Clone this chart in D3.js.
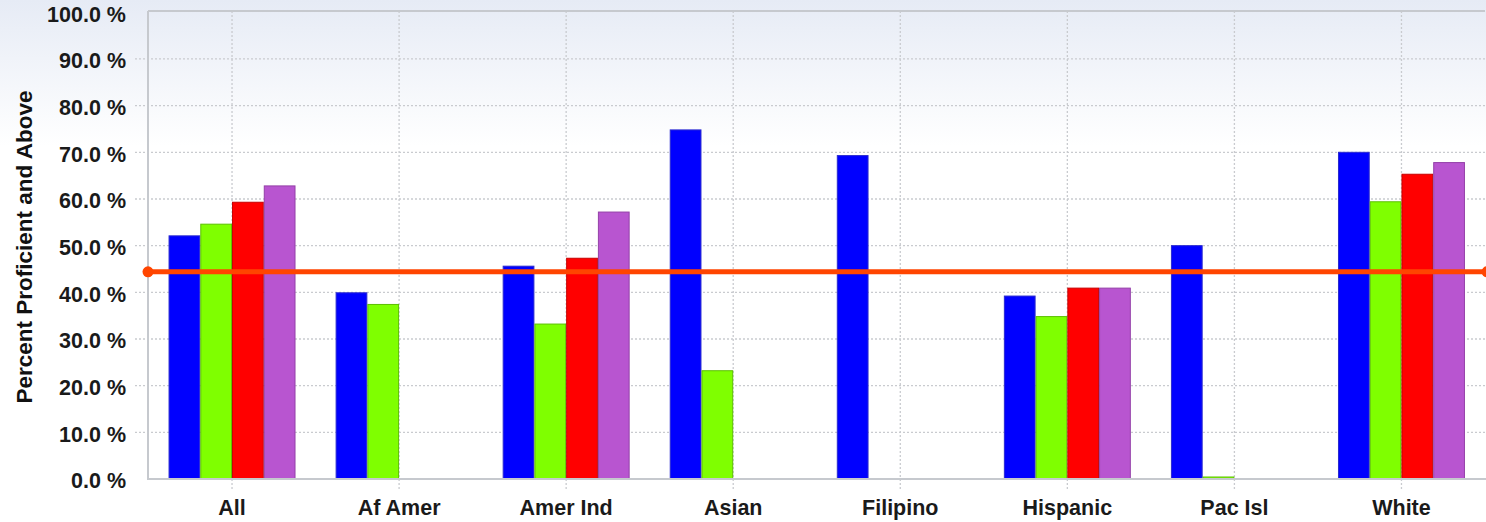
<!DOCTYPE html>
<html>
<head>
<meta charset="utf-8">
<script src="https://cdn.jsdelivr.net/npm/d3@7"></script>
<style>
  html, body { margin: 0; padding: 0; background: #fff; }
  svg { display: block; font-family: "Liberation Sans", Arial, sans-serif; }
</style>
</head>
<body>
<svg width="1486" height="522"></svg>
<script>
// groups on the x axis
const categories = ['All', 'Af Amer', 'Amer Ind', 'Asian', 'Filipino', 'Hispanic', 'Pac Isl', 'White'];
const seriesKeys = ['s1', 's2', 's3', 's4'];
const seriesColors = ['#0000ff', '#7fff00', '#ff0000', '#b855d0'];
const seriesStroke = ['#2a2ad0', '#5cc000', '#c80000', '#9440a8'];

// percent proficient and above, null = no bar
const s1 = [52.1, 39.9, 45.6, 74.8, 69.3, 39.2, 50.0, 70.0];
const s2 = [54.6, 37.4, 33.2, 23.2, null, 34.8, 0.0, 59.4];
const s3 = [59.3, null, 47.3, null, null, 40.9, null, 65.3];
const s4 = [62.8, null, 57.2, null, null, 40.9, null, 67.8];
const seriesValues = [s1, s2, s3, s4];

const targetValue = 44.4;
const yTicks = [0, 10, 20, 30, 40, 50, 60, 70, 80, 90, 100];

const margin = {top: 11, left: 148, bottom: 43, right: 1};
const width = 1486;
const height = 522;

const svg = d3.select('svg');

// background wash
const defs = svg.append('defs');
const grad = defs.append('linearGradient')
    .attr('id', 'bg').attr('x1', 0).attr('y1', 0).attr('x2', 0).attr('y2', 1);
grad.append('stop').attr('offset', '0%').attr('stop-color', '#e6ebf5');
grad.append('stop').attr('offset', '28%').attr('stop-color', '#ffffff');
grad.append('stop').attr('offset', '100%').attr('stop-color', '#ffffff');
svg.append('rect').attr('width', width).attr('height', height).attr('fill', 'url(#bg)');

const x0 = d3.scaleBand()
    .domain(categories)
    .range([margin.left + 0.5, width - margin.right])
    .paddingInner(0.24)
    .paddingOuter(0.12);

const x1 = d3.scaleBand()
    .domain(seriesKeys)
    .range([0, x0.bandwidth()]);

const yScale = d3.scaleLinear()
    .domain([0, 100])
    .range([height - margin.bottom, 12.3]);

const plotBottom = height - margin.bottom;

// horizontal grid + tick marks
svg.append('g')
    .selectAll('line')
    .data(yTicks.filter(d => d > 0 && d < 100))
    .join('line')
    .attr('x1', margin.left - 13)
    .attr('x2', width)
    .attr('y1', d => yScale(d))
    .attr('y2', d => yScale(d))
    .attr('stroke', '#c9cbcf')
    .attr('stroke-width', 1.3)
    .attr('stroke-dasharray', '2,2');

// vertical grid at category centres
svg.append('g')
    .selectAll('line')
    .data(categories)
    .join('line')
    .attr('x1', d => x0(d) + x0.bandwidth() / 2)
    .attr('x2', d => x0(d) + x0.bandwidth() / 2)
    .attr('y1', margin.top)
    .attr('y2', plotBottom + 11)
    .attr('stroke', '#c9cbcf')
    .attr('stroke-width', 1.3)
    .attr('stroke-dasharray', '2,2');

// y-axis labels
const yAxis = d3.axisLeft(yScale)
    .tickValues(yTicks)
    .tickSize(0)
    .tickPadding(22)
    .tickFormat(d => d.toFixed(1) + ' %');

const yg = svg.append('g')
    .attr('transform', `translate(${margin.left}, 2)`)
    .call(yAxis);
yg.select('.domain').remove();
yg.selectAll('text')
    .attr('fill', '#1a1a1a')
    .style('font-size', '21.5px')
    .style('font-weight', 'bold');

// x-axis labels
const xAxis = d3.axisBottom(x0).tickSize(0).tickPadding(21);
const xg = svg.append('g')
    .attr('transform', `translate(0, ${plotBottom})`)
    .call(xAxis);
xg.select('.domain').remove();
xg.selectAll('text')
    .attr('fill', '#1a1a1a')
    .style('font-size', '21.5px')
    .style('font-weight', 'bold');

// bars
const groups = svg.append('g')
    .selectAll('g')
    .data(categories)
    .join('g')
    .attr('transform', d => `translate(${x0(d)}, 0)`);

groups.selectAll('rect')
    .data((d, i) => seriesKeys.map((k, j) => ({key: k, j: j, value: seriesValues[j][i]})))
    .join('rect')
    .filter(d => d.value !== null)
    .attr('x', d => x1(d.key) + 0.5)
    .attr('width', x1.bandwidth() - 1)
    .attr('y', d => Math.min(yScale(d.value), plotBottom - 2))
    .attr('height', d => Math.max(plotBottom - yScale(d.value), 2))
    .attr('fill', d => seriesColors[d.j])
    .attr('stroke', d => seriesStroke[d.j])
    .attr('stroke-width', 1);

// plot frame
svg.append('path')
    .attr('d', `M${margin.left},${margin.top} H${width - 1} M${margin.left},${margin.top} V${plotBottom} H${width}`)
    .attr('fill', 'none')
    .attr('stroke', '#c6c9ce')
    .attr('stroke-width', 2);

// target line
svg.append('line')
    .attr('x1', margin.left)
    .attr('x2', width)
    .attr('y1', yScale(targetValue))
    .attr('y2', yScale(targetValue))
    .attr('stroke', '#ff4500')
    .attr('stroke-width', 5);

svg.append('g')
    .selectAll('circle')
    .data([margin.left, width + 1])
    .join('circle')
    .attr('cx', d => d)
    .attr('cy', yScale(targetValue))
    .attr('r', 5.5)
    .attr('fill', '#ff4500');

// y-axis title
svg.append('text')
    .attr('transform', `translate(32, ${247}) rotate(-90)`)
    .attr('text-anchor', 'middle')
    .attr('fill', '#111')
    .style('font-size', '22.5px')
    .style('font-weight', 'bold')
    .text('Percent Proficient and Above');
</script>
</body>
</html>
